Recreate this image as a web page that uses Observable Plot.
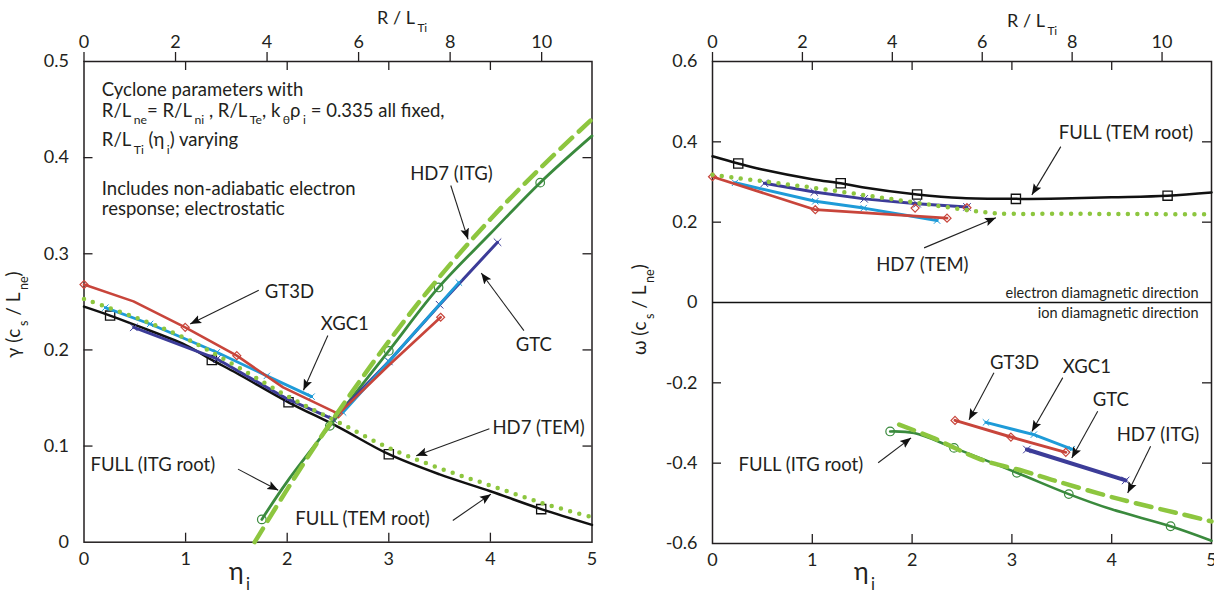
<!DOCTYPE html>
<html><head><meta charset="utf-8">
<script src="https://cdn.jsdelivr.net/npm/d3@7"></script>
<script src="https://cdn.jsdelivr.net/npm/@observablehq/plot@0.6"></script>
<style>
html,body{margin:0;padding:0;background:#fff;overflow:hidden;}
#wrap{position:relative;width:1214px;height:595px;overflow:hidden;}
#left,#right{position:absolute;top:0;}
#left{left:0;} #right{left:607px;}
</style></head><body><div id="wrap"><div id="left"></div><div id="right"></div></div>
<script>
// ---------- axes ----------
const etaTicks = [0, 1, 2, 3, 4, 5];
const etaInnerTicks = [1, 2, 3, 4];
const rltiTicks = [0, 2, 4, 6, 8, 10];
const RLn = 2.22; // R/L_Ti = RLn * eta_i
const gammaTicks = [0, 0.1, 0.2, 0.3, 0.4, 0.5];
const gammaInner = [0.1, 0.2, 0.3, 0.4];
const omegaTicks = [-0.6, -0.4, -0.2, 0, 0.2, 0.4, 0.6];
const omegaInner = [-0.4, -0.2, 0.2, 0.4];

// ---------- left panel: gamma ----------
const fullTemEtaL = [0, 0.257, 0.5, 1.0, 1.258, 1.5, 2.013, 2.5, 3.0, 3.5, 4.0, 4.5, 5.0];
const fullTemGammaL = [0.245, 0.2357, 0.226, 0.205, 0.1896, 0.176, 0.1455, 0.120, 0.0915, 0.0705, 0.053, 0.0344, 0.018];
const fullTemMarkEtaL = [0.257, 1.258, 2.013, 3.0, 4.5];
const fullTemMarkGammaL = [0.2357, 0.1896, 0.1455, 0.0915, 0.0344];

const hd7TemEtaL = [0, 0.5, 1, 1.5, 2, 2.5, 3, 3.5, 4, 4.5, 5];
const hd7TemGammaL = [0.253, 0.234, 0.212, 0.183, 0.152, 0.125, 0.098, 0.077, 0.059, 0.041, 0.026];

const fullItgEtaL = [1.75, 2.0, 2.42, 3.0, 3.49, 4.0, 4.49, 5.0];
const fullItgGammaL = [0.0237, 0.063, 0.121, 0.199, 0.265, 0.321, 0.374, 0.4226];
const fullItgMarkEtaL = [1.75, 2.42, 3.0, 3.49, 4.49];
const fullItgMarkGammaL = [0.0237, 0.121, 0.199, 0.265, 0.374];

const hd7ItgEtaL = [1.68, 2.0, 2.4, 3.0, 3.5, 4.0, 4.5, 5.0];
const hd7ItgGammaL = [0, 0.055, 0.12, 0.209, 0.276, 0.336, 0.39, 0.44];

const gt3dEtaL = [0, 0.487, 0.996, 1.504, 1.96, 2.505, 3.0, 3.51];
const gt3dGammaL = [0.268, 0.2505, 0.2235, 0.194, 0.161, 0.1335, 0.184, 0.234];
const gt3dMarkEtaL = [0, 0.996, 1.504, 2.505, 3.51];
const gt3dMarkGammaL = [0.268, 0.2235, 0.194, 0.1335, 0.234];

const xgc1TemEtaL = [0.21, 0.65, 1.307, 1.8, 2.24];
const xgc1TemGammaL = [0.244, 0.227, 0.1975, 0.173, 0.1514];
const xgc1ItgEtaL = [2.55, 3.0, 3.69];
const xgc1ItgGammaL = [0.135, 0.188, 0.27];

const gtcEtaL = [0.49, 1.31, 2.0, 2.45, 3.0, 3.5, 4.07];
const gtcGammaL = [0.2235, 0.1906, 0.149, 0.128, 0.188, 0.247, 0.312];

// ---------- right panel: omega ----------
const fullTemEtaR = [0, 0.258, 0.5, 1.0, 1.285, 1.5, 2.05, 2.5, 3.04, 3.5, 4.0, 4.56, 5.0];
const fullTemOmegaR = [0.364, 0.346, 0.331, 0.307, 0.297, 0.287, 0.269, 0.260, 0.258, 0.259, 0.262, 0.266, 0.274];
const fullTemMarkEtaR = [0.258, 1.285, 2.05, 3.04, 4.56];
const fullTemMarkOmegaR = [0.346, 0.297, 0.269, 0.258, 0.266];

const hd7TemEtaR = [0, 0.5, 1.0, 1.5, 2.0, 2.5, 2.85, 3.5, 4.0, 4.5, 5.0];
const hd7TemOmegaR = [0.318, 0.302, 0.286, 0.268, 0.250, 0.232, 0.222, 0.221, 0.2205, 0.22, 0.22];

const gt3dTemEtaR = [0, 1.03, 2.35];
const gt3dTemOmegaR = [0.313, 0.231, 0.210];
const gt3dExtraEtaR = [2.03, 2.55];
const gt3dExtraOmegaR = [0.235, 0.236];
const xgc1TemEtaR = [0.226, 1.03, 1.515, 2.25];
const xgc1TemOmegaR = [0.298, 0.252, 0.235, 0.204];
const gtcTemEtaR = [0.52, 1.02, 1.52, 2.05, 2.55];
const gtcTemOmegaR = [0.297, 0.275, 0.258, 0.246, 0.238];

const fullItgEtaR = [1.78, 2.02, 2.42, 3.05, 3.57, 4.0, 4.59, 5.0];
const fullItgOmegaR = [-0.321, -0.325, -0.362, -0.424, -0.477, -0.515, -0.557, -0.593];
const fullItgMarkEtaR = [1.78, 2.42, 3.05, 3.57, 4.59];
const fullItgMarkOmegaR = [-0.321, -0.362, -0.424, -0.477, -0.557];
const hd7ItgEtaR = [1.87, 2.21, 2.69, 3.12, 3.45, 4.07, 4.72, 5.0];
const hd7ItgOmegaR = [-0.304, -0.337, -0.391, -0.420, -0.445, -0.489, -0.528, -0.545];
const gt3dItgEtaR = [2.43, 2.99, 3.54];
const gt3dItgOmegaR = [-0.2935, -0.335, -0.373];
const xgc1ItgEtaR = [2.74, 3.22, 3.60];
const xgc1ItgOmegaR = [-0.2985, -0.329, -0.365];
const gtcItgEtaR = [3.15, 4.14];
const gtcItgOmegaR = [-0.366, -0.443];

// ---------- annotations (data coordinates) ----------
const annotLeft = [
  {text: "GT3D", x: 1.78, y: 0.26, x1: 1.72, y1: 0.262, x2: 1.045, y2: 0.227},
  {text: "XGC1", x: 2.33, y: 0.227, x1: 2.40, y1: 0.215, x2: 2.16, y2: 0.158},
  {text: "GTC", x: 4.25, y: 0.205, x1: 4.33, y1: 0.220, x2: 3.91, y2: 0.280},
  {text: "HD7 (ITG)", x: 3.21, y: 0.383, x1: 3.61, y1: 0.371, x2: 3.78, y2: 0.315},
  {text: "HD7 (TEM)", x: 4.02, y: 0.119, x1: 3.99, y1: 0.118, x2: 3.27, y2: 0.090},
  {text: "FULL (ITG root)", x: 0.064, y: 0.08, x1: 1.516, y1: 0.076, x2: 1.912, y2: 0.054},
  {text: "FULL (TEM root)", x: 2.08, y: 0.0236, x1: 3.63, y1: 0.0226, x2: 4.005, y2: 0.050}
];
const annotRight = [
  {text: "FULL (TEM root)", x: 3.47, y: 0.422, x1: 3.49, y1: 0.388, x2: 3.20, y2: 0.268},
  {text: "HD7 (TEM)", x: 1.64, y: 0.094, x1: 2.12, y1: 0.136, x2: 2.84, y2: 0.211},
  {text: "FULL (ITG root)", x: 0.26, y: -0.404, x1: 1.66, y1: -0.399, x2: 1.99, y2: -0.337},
  {text: "GT3D", x: 2.78, y: -0.150, x1: 2.82, y1: -0.175, x2: 2.57, y2: -0.292},
  {text: "XGC1", x: 3.51, y: -0.162, x1: 3.51, y1: -0.187, x2: 3.20, y2: -0.321},
  {text: "GTC", x: 3.81, y: -0.242, x1: 3.86, y1: -0.271, x2: 3.60, y2: -0.387},
  {text: "HD7 (ITG)", x: 4.05, y: -0.329, x1: 4.39, y1: -0.358, x2: 4.16, y2: -0.474}
];

// ---------- styles ----------
const C = {red: "#c8453b", lblue: "#1e9bd8", indigo: "#3c3c98", dgreen: "#3a8a3d", lgreen: "#8dc63f", black: "#111"};
const FONT = "Lato, 'Open Sans', sans-serif";
const INK = "#231f20";
const FS = 18.5;   // annotation font size
const TFS = 18;    // tick label font size

const pts = (xs, ys) => xs.map((x, i) => ({x, y: ys[i]}));
const fmtY = d => d === 0 ? "0" : d.toFixed(1);

function frameMarks(fw, fh, inner) {
  return [
    Plot.axisX({ticks: etaTicks, anchor: "bottom", tickSize: 0, tickPadding: 10, tickFormat: d => String(d), label: null, fontSize: TFS}),
    Plot.axisX({ticks: rltiTicks.map(v => v / RLn), anchor: "top", tickSize: 10, tickPadding: 4, tickFormat: d => String(Math.round(d * RLn)), label: null, fontSize: TFS, strokeWidth: 1.3}),
    Plot.tickX(etaInnerTicks, {x: d => d, insetTop: fh - 9, strokeWidth: 1.3}),
    Plot.tickX(etaInnerTicks, {x: d => d, insetBottom: fh - 9, strokeWidth: 1.3}),
    Plot.tickY(inner, {y: d => d, insetRight: fw - 9, strokeWidth: 1.3}),
    Plot.tickY(inner, {y: d => d, insetLeft: fw - 9, strokeWidth: 1.3}),
    Plot.frame({strokeWidth: 1.5})
  ];
}

function codeLine(data, color, w = 2.5) {
  return Plot.line(data, {x: "x", y: "y", stroke: color, strokeWidth: w});
}
function annotMarks(ann) {
  return [
    Plot.link(ann, {x1: "x1", y1: "y1", x2: "x2", y2: "y2", stroke: "#222", strokeWidth: 1.1}),
    Plot.text(ann, {x: "x", y: "y", text: "text", textAnchor: "start", fontSize: FS, fill: INK})
  ];
}

function rich(svg, x, y, parts, {size = FS, anchor = "start", rotate = 0, fill = INK} = {}) {
  const t = svg.append("text")
    .attr("transform", `translate(${x},${y + size * 0.35}) rotate(${rotate})`)
    .attr("font-family", FONT).attr("font-size", size).attr("fill", fill)
    .attr("text-anchor", anchor).style("white-space", "pre");
  let down = false;
  const sub = size * 0.66, shift = size * 0.4;
  for (const p of parts) {
    const isSub = Array.isArray(p);
    const s = isSub ? p[0] : p;
    const ts = t.append("tspan").text(s);
    if (isSub) {
      ts.attr("font-size", sub);
      if (!down) { ts.attr("dy", shift).attr("dx", 2.5); down = true; }
    } else if (down) { ts.attr("dy", -shift); down = false; }
  }
  return t;
}

function arrowHeads(svgNode, id) {
  const svg = d3.select(svgNode);
  svg.insert("defs", ":first-child").append("marker")
    .attr("id", id).attr("viewBox", "0 -5 10 10").attr("refX", 10).attr("refY", 0)
    .attr("markerWidth", 11).attr("markerHeight", 11).attr("markerUnits", "userSpaceOnUse")
    .attr("orient", "auto")
    .append("path").attr("d", "M0,-4L10,0L0,4L2,0Z").attr("fill", "#111");
  svg.selectAll('g[aria-label="link"] path').attr("marker-end", `url(#${id})`);
}

// ---------- LEFT PANEL ----------
{
  const W = 607, H = 595, ml = 83.5, mr = 15.5, mt = 61, mb = 53.3;
  const fw = W - ml - mr, fh = H - mt - mb;
  const plot = Plot.plot({
    width: W, height: H, marginLeft: ml, marginRight: mr, marginTop: mt, marginBottom: mb,
    x: {domain: [0, 5]}, y: {domain: [0, 0.5]},
    style: {fontFamily: FONT, fontSize: TFS + "px", color: INK, background: "white"},
    marks: [
      ...frameMarks(fw, fh, gammaInner),
      Plot.axisY({ticks: gammaTicks, anchor: "left", tickSize: 0, tickPadding: 15, tickFormat: fmtY, label: null, fontSize: TFS}),
      Plot.line(pts(fullTemEtaL, fullTemGammaL), {x: "x", y: "y", stroke: C.black, strokeWidth: 2.5, curve: "catmull-rom"}),
      Plot.dot(pts(fullTemMarkEtaL, fullTemMarkGammaL), {x: "x", y: "y", symbol: "square", r: 5.2, stroke: C.black, strokeWidth: 1.3}),
      Plot.line(pts(fullItgEtaL, fullItgGammaL), {x: "x", y: "y", stroke: C.dgreen, strokeWidth: 2.8, curve: "catmull-rom"}),
      Plot.dot(pts(fullItgMarkEtaL, fullItgMarkGammaL), {x: "x", y: "y", symbol: "circle", r: 4.3, stroke: C.dgreen, strokeWidth: 1.2}),
      codeLine(pts(gtcEtaL, gtcGammaL), C.indigo, 3),
      Plot.dot(pts(gtcEtaL, gtcGammaL), {x: "x", y: "y", symbol: "times", r: 3.5, stroke: C.indigo, strokeWidth: 1}),
      codeLine(pts(xgc1TemEtaL, xgc1TemGammaL), C.lblue, 2.8),
      codeLine(pts(xgc1ItgEtaL, xgc1ItgGammaL), C.lblue, 2.8),
      Plot.dot(pts(xgc1TemEtaL.concat(xgc1ItgEtaL), xgc1TemGammaL.concat(xgc1ItgGammaL)), {x: "x", y: "y", symbol: "times", r: 3, stroke: C.lblue, strokeWidth: 1}),
      codeLine(pts(gt3dEtaL, gt3dGammaL), C.red, 2.6),
      Plot.dot(pts(gt3dMarkEtaL, gt3dMarkGammaL), {x: "x", y: "y", symbol: "diamond2", r: 3.6, stroke: C.red, strokeWidth: 1.2}),
      Plot.line(pts(hd7TemEtaL, hd7TemGammaL), {x: "x", y: "y", stroke: C.lgreen, strokeWidth: 4.5, strokeDasharray: "0 9.5", strokeLinecap: "round", curve: "catmull-rom"}),
      Plot.line(pts(hd7ItgEtaL, hd7ItgGammaL), {x: "x", y: "y", stroke: C.lgreen, strokeWidth: 4.5, strokeDasharray: "16 9", curve: "catmull-rom"}),
      ...annotMarks(annotLeft)
    ]
  });
  arrowHeads(plot, "ahL");
  const svg = d3.select(plot);
  const sx = plot.scale("x"), sy = plot.scale("y");
  const tx = sx.apply(0.18);
  rich(svg, tx, sy.apply(0.4705), ["Cyclone parameters with"]);
  rich(svg, tx, sy.apply(0.449), ["R/L", ["ne"], "= R/L", ["ni"], " , R/L", ["Te"], ", k", ["θ"], "ρ", ["i"], " = 0.335 all fixed,"]);
  rich(svg, tx, sy.apply(0.418), ["R/L", ["Ti"], " (η", ["i"], ") varying"]);
  rich(svg, tx, sy.apply(0.367), ["Includes non-adiabatic electron"]);
  rich(svg, tx, sy.apply(0.3465), ["response; electrostatic"]);
  // axis titles
  rich(svg, 377, 18, ["R / L", ["Ti"]], {size: 18});
  rich(svg, 20, 308, ["γ (c", ["s"], " / L", ["ne"], ")"], {size: 19, anchor: "middle", rotate: -90});
  rich(svg, 229, 571, ["η", ["i"]], {size: 25});
  document.getElementById("left").appendChild(plot);
}

// ---------- RIGHT PANEL ----------
{
  const W = 607, H = 595, ml = 105, mr = 3, mt = 61, mb = 52;
  const fw = W - ml - mr, fh = H - mt - mb;
  const plot = Plot.plot({
    width: W, height: H, marginLeft: ml, marginRight: mr, marginTop: mt, marginBottom: mb,
    x: {domain: [0, 5]}, y: {domain: [-0.6, 0.6]},
    style: {fontFamily: FONT, fontSize: TFS + "px", color: INK, background: "white", overflow: "visible"},
    marks: [
      ...frameMarks(fw, fh, omegaInner),
      Plot.axisY({ticks: omegaTicks, anchor: "left", tickSize: 0, tickPadding: 15, tickFormat: fmtY, label: null, fontSize: TFS}),
      Plot.ruleY([0], {stroke: C.black, strokeWidth: 1.5}),
      Plot.line(pts(fullTemEtaR, fullTemOmegaR), {x: "x", y: "y", stroke: C.black, strokeWidth: 2.5, curve: "catmull-rom"}),
      Plot.dot(pts(fullTemMarkEtaR, fullTemMarkOmegaR), {x: "x", y: "y", symbol: "square", r: 5.2, stroke: C.black, strokeWidth: 1.3}),
      Plot.line(pts(fullItgEtaR, fullItgOmegaR), {x: "x", y: "y", stroke: C.dgreen, strokeWidth: 2.6, curve: "catmull-rom"}),
      Plot.dot(pts(fullItgMarkEtaR, fullItgMarkOmegaR), {x: "x", y: "y", symbol: "circle", r: 4.3, stroke: C.dgreen, strokeWidth: 1.2}),
      Plot.line(pts(hd7ItgEtaR, hd7ItgOmegaR), {x: "x", y: "y", stroke: C.lgreen, strokeWidth: 4.5, strokeDasharray: "16 9", curve: "catmull-rom"}),
      codeLine(pts(gtcTemEtaR, gtcTemOmegaR), C.indigo, 3),
      codeLine(pts(gtcItgEtaR, gtcItgOmegaR), C.indigo, 4),
      Plot.dot(pts(gtcTemEtaR.concat(gtcItgEtaR), gtcTemOmegaR.concat(gtcItgOmegaR)), {x: "x", y: "y", symbol: "times", r: 3.5, stroke: C.indigo, strokeWidth: 1}),
      codeLine(pts(xgc1TemEtaR, xgc1TemOmegaR), C.lblue, 3),
      codeLine(pts(xgc1ItgEtaR, xgc1ItgOmegaR), C.lblue, 3),
      Plot.dot(pts(xgc1TemEtaR.concat(xgc1ItgEtaR), xgc1TemOmegaR.concat(xgc1ItgOmegaR)), {x: "x", y: "y", symbol: "times", r: 3, stroke: C.lblue, strokeWidth: 1}),
      codeLine(pts(gt3dTemEtaR, gt3dTemOmegaR), C.red, 2.8),
      codeLine(pts(gt3dItgEtaR, gt3dItgOmegaR), C.red, 3),
      Plot.dot(pts(gt3dTemEtaR.concat(gt3dItgEtaR, gt3dExtraEtaR), gt3dTemOmegaR.concat(gt3dItgOmegaR, gt3dExtraOmegaR)), {x: "x", y: "y", symbol: "diamond2", r: 3.6, stroke: C.red, strokeWidth: 1.2}),
      Plot.line(pts(hd7TemEtaR, hd7TemOmegaR), {x: "x", y: "y", stroke: C.lgreen, strokeWidth: 4.5, strokeDasharray: "0 9.5", strokeLinecap: "round", curve: "catmull-rom"}),
      Plot.text(["electron diamagnetic direction"], {x: 4.87, y: 0.024, text: d => d, textAnchor: "end", fontSize: 14.5, fill: INK}),
      Plot.text(["ion diamagnetic direction"], {x: 4.87, y: -0.026, text: d => d, textAnchor: "end", fontSize: 14.5, fill: INK}),
      ...annotMarks(annotRight)
    ]
  });
  arrowHeads(plot, "ahR");
  const svg = d3.select(plot);
  rich(svg, 1007 - 607, 21, ["R / L", ["Ti"]], {size: 18});
  rich(svg, 646 - 607, 303, ["ω (c", ["s"], " / L", ["ne"], ")"], {size: 19, anchor: "middle", rotate: -90});
  rich(svg, 854 - 607, 571, ["η", ["i"]], {size: 25});
  document.getElementById("right").appendChild(plot);
}
</script>
</body></html>
